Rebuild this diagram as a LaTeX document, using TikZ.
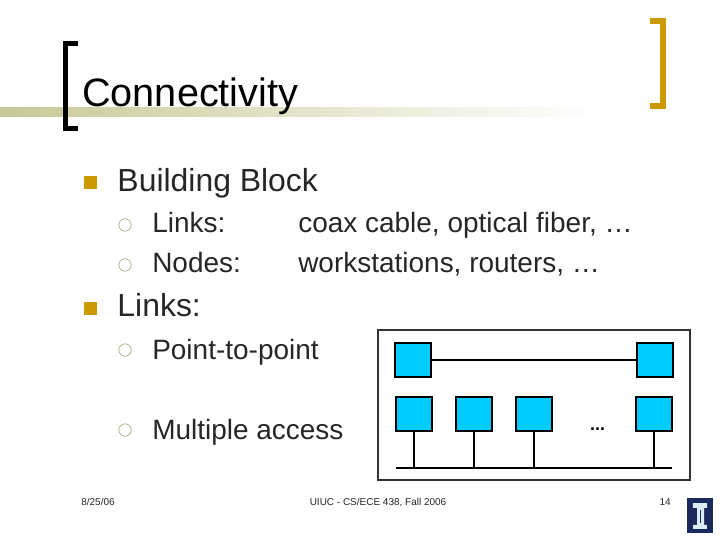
\documentclass[tikz,border=0pt]{standalone}
\usepackage{xcolor}
\usepackage{fontspec}
\setmainfont{Liberation Sans}
\definecolor{ruleolive}{HTML}{C8C896}
\definecolor{rulemid}{HTML}{DADABA}
\definecolor{bulletgold}{HTML}{CC9900}
\definecolor{ringgrey}{HTML}{A8A884}
\definecolor{boxcyan}{HTML}{00CCFF}
\definecolor{bodyink}{HTML}{262626}
\definecolor{framegrey}{HTML}{333333}
\definecolor{logonavy}{HTML}{1B2A5C}
\definecolor{logopale}{HTML}{D8EEF5}
\tikzset{
	squarebullet/.style={shape=rectangle, fill=bulletgold, inner sep=0, minimum width=0.325cm, minimum height=0.325cm},
	ringbullet/.style={shape=circle, draw=ringgrey, line width=0.5pt, inner sep=0, minimum size=0.31cm},
	station/.style={shape=rectangle, draw=black, fill=boxcyan, line width=1.2pt, inner sep=0, minimum width=0.91cm, minimum height=0.86cm},
	wire/.style={line width=1.2pt},
	titletext/.style={anchor=base west, inner sep=0, text=black, font=\fontsize{28.2}{32}\selectfont},
	headtext/.style={anchor=base west, inner sep=0, text=bodyink, font=\fontsize{22.7}{26}\selectfont},
	subtext/.style={anchor=base west, inner sep=0, text=bodyink, font=\fontsize{19.9}{24}\selectfont},
	foottext/.style={anchor=base, inner sep=0, text=bodyink, font=\fontsize{7.1}{9}\selectfont},
}
\begin{document}
\begin{tikzpicture}
	\useasboundingbox (0, 0) rectangle (18, 13.5);
	% Title rule and brackets:
	\fill[left color=ruleolive, middle color=rulemid, right color=white] (0, 10.575) rectangle (15, 10.8);
	\draw[line width=0.125cm, miter limit=10] (1.95, 12.4125) -- (1.6375, 12.4125) -- (1.6375, 10.2875) -- (1.95, 10.2875);
	\draw[line width=0.15cm, bulletgold] (16.25, 12.97) -- (16.57, 12.97) -- (16.57, 10.85) -- (16.25, 10.85);
	\node[titletext](Title) at (2.05, 10.835){Connectivity};
	% Text and bullets:
	\node[squarebullet](Bullet1) at (2.26, 8.94){};
	\node[headtext](Head1) at (2.93, 8.71){Building Block};
	\node[ringbullet](Ring1) at (3.125, 7.875){};
	\node[subtext](Sub1) at (3.8, 7.69){Links:};
	\node[subtext](Sub1b) at (7.45, 7.69){coax cable, optical fiber, …};
	\node[ringbullet](Ring2) at (3.125, 6.875){};
	\node[subtext](Sub2) at (3.8, 6.69){Nodes:};
	\node[subtext](Sub2b) at (7.45, 6.69){workstations, routers, …};
	\node[squarebullet](Bullet2) at (2.26, 5.79){};
	\node[headtext](Head2) at (2.93, 5.58){Links:};
	\node[ringbullet](Ring3) at (3.125, 4.75){};
	\node[subtext](Sub3) at (3.8, 4.51){Point-to-point};
	\node[ringbullet](Ring4) at (3.125, 2.75){};
	\node[subtext](Sub4) at (3.8, 2.5){Multiple access};
	% Stations and wires:
	\node[shape=rectangle, draw=framegrey, line width=1.4pt, inner sep=0, minimum width=7.8cm, minimum height=3.75cm](Rect1) at (13.35, 3.375){};
	\node[station](Box1) at (10.325, 4.5){};
	\node[station](Box2) at (16.375, 4.5){};
	\draw[wire] (Box1) -- (Box2);
	\node[station](Box3) at (10.35, 3.15){};
	\node[station](Box4) at (11.85, 3.15){};
	\node[station](Box5) at (13.35, 3.15){};
	\node[station](Box6) at (16.35, 3.15){};
	\node[anchor=base, inner sep=0, font=\bfseries\fontsize{12.7}{14}\selectfont](Dots) at (14.94, 2.725){...};
	\coordinate (BusL) at (9.9, 1.8);
	\coordinate (BusR) at (16.8, 1.8);
	\draw[wire] (BusL) -- (BusR);
	\foreach \n in {3,4,5,6}
		\draw[wire] (Box\n.south) -- (Box\n.south |- BusL);
	% Footer and logo:
	\node[foottext](Date) at (2.45, 0.875){8/25/06};
	\node[foottext](Course) at (9.45, 0.875){UIUC - CS/ECE 438, Fall 2006};
	\node[foottext](Page) at (16.63, 0.875){14};
	\node[shape=rectangle, fill=logonavy, inner sep=0, minimum width=0.65cm, minimum height=0.875cm](Logo) at (17.5, 0.6125){};
	\fill[logopale] (17.32, 0.92) -- (17.68, 0.92) -- (17.68, 0.8) -- (17.6, 0.8) -- (17.6, 0.38) -- (17.67, 0.38) -- (17.67, 0.28) -- (17.33, 0.28) -- (17.33, 0.38) -- (17.43, 0.38) -- (17.43, 0.8) -- (17.32, 0.8) -- cycle;
	\fill[logonavy] (17.49, 0.74) rectangle (17.53, 0.43);
\end{tikzpicture}
\end{document}
